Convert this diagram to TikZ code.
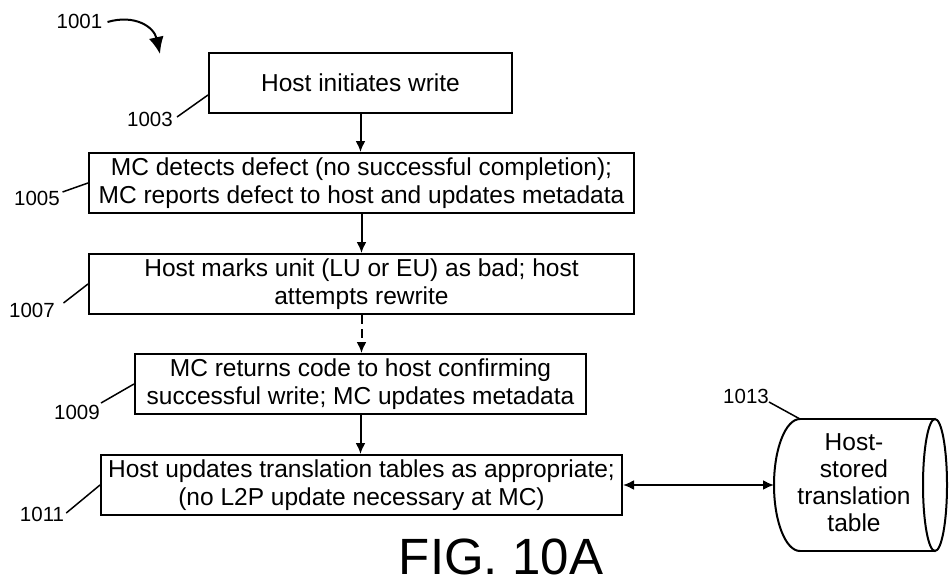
\documentclass[tikz,border=0pt]{standalone}
\usepackage{fontspec}
\setmainfont{Liberation Sans}
\usetikzlibrary{arrows.meta}
\begin{document}
\begin{tikzpicture}[x=1pt,y=-1pt,
  box/.style={draw, line width=2pt, inner sep=0pt, align=center, minimum height=60pt, font=\fontsize{24.5}{27.5}\selectfont},
  lbl/.style={font=\fontsize{20.5}{24}\selectfont, inner sep=0pt},
  arr/.style={line width=2pt, -{Latex[length=11pt,width=10pt]}},
  darr/.style={line width=2pt, {Latex[length=11pt,width=10pt]}-{Latex[length=11pt,width=10pt]}},
  lead/.style={line width=1.5pt},
  outl/.style={line width=2pt}]
\useasboundingbox (0,0) rectangle (950,584);
% boxes
\node[box, minimum width=303pt] (b1003) at (360.5,83) {Host initiates write};
\node[box, minimum width=545pt] (b1005) at (361.5,183) {MC detects defect (no successful completion);\\MC reports defect to host and updates metadata};
\node[box, minimum width=545pt] (b1007) at (361.5,284) {Host marks unit (LU or EU) as bad; host\\attempts rewrite};
\node[box, minimum width=451pt] (b1009) at (360.5,384) {MC returns code to host confirming\\successful write; MC updates metadata};
\node[box, minimum width=521pt] (b1011) at (361.5,485) {Host updates translation tables as appropriate;\\(no L2P update necessary at MC)};
% connectors
\draw[arr] (b1003.south) -- (b1003.south |- b1005.north);
\draw[arr] (b1005.south) -- (b1005.south |- b1007.north);
\draw[arr, dash pattern=on 9pt off 5pt] (b1007.south) -- (b1007.south |- b1009.north);
\draw[arr] (b1009.south) -- (b1009.south |- b1011.north);
% cylinder
\coordinate (cylTL) at (800,419);
\coordinate (cylTR) at (935,419);
\coordinate (cylBL) at (800,551);
\coordinate (cylBR) at (935,551);
\coordinate (cylL) at (774,485);
\coordinate (cylC) at (935,485);
\draw[outl] (cylTL) -- (cylTR) (cylBL) -- (cylBR);
\draw[outl] (cylTL) arc[start angle=90, end angle=270, x radius=26pt, y radius=66pt];
\draw[outl] (cylC) ellipse [x radius=12pt, y radius=66pt];
\node[align=center, inner sep=0pt, font=\fontsize{24.5}{27}\selectfont] (cyl) at (854,483) {Host-\\stored\\translation\\table};
\draw[darr] (b1011.east) -- (cylL);
% labels
\node[lbl] (l1001) at (79.5,21) {1001};
\node[lbl] (l1003) at (150,119) {1003};
\node[lbl] (l1005) at (37,198) {1005};
\node[lbl] (l1007) at (32,310) {1007};
\node[lbl] (l1009) at (77,412) {1009};
\node[lbl] (l1011) at (42,514) {1011};
\node[lbl] (l1013) at (746,396) {1013};
\coordinate (a1001) at (160,54);
\draw[line width=2pt, -{Latex[length=17pt,width=15pt]}] ([shift={(5pt,-1pt)}]l1001.east) .. controls (135,14) and (154,27) .. (a1001);
\draw[lead] ([shift={(4pt,2pt)}]l1003.east) -- ([yshift=-12pt]b1003.west);
\draw[lead] ([shift={(2.5pt,6pt)}]l1005.east) -- (b1005.west);
\draw[lead] ([shift={(8.5pt,7pt)}]l1007.east) -- (b1007.west);
\draw[lead] ([shift={(1pt,9pt)}]l1009.east) -- (b1009.west);
\draw[lead] ([shift={(2pt,1pt)}]l1011.east) -- (b1011.west);
\draw[lead] ([shift={(0pt,-6pt)}]l1013.east) -- (cylTL);
% figure title
\node[inner sep=0pt, anchor=base, font=\fontsize{51}{51}\selectfont] (fig) at (501,574) {FIG. 10A};
\end{tikzpicture}
\end{document}
